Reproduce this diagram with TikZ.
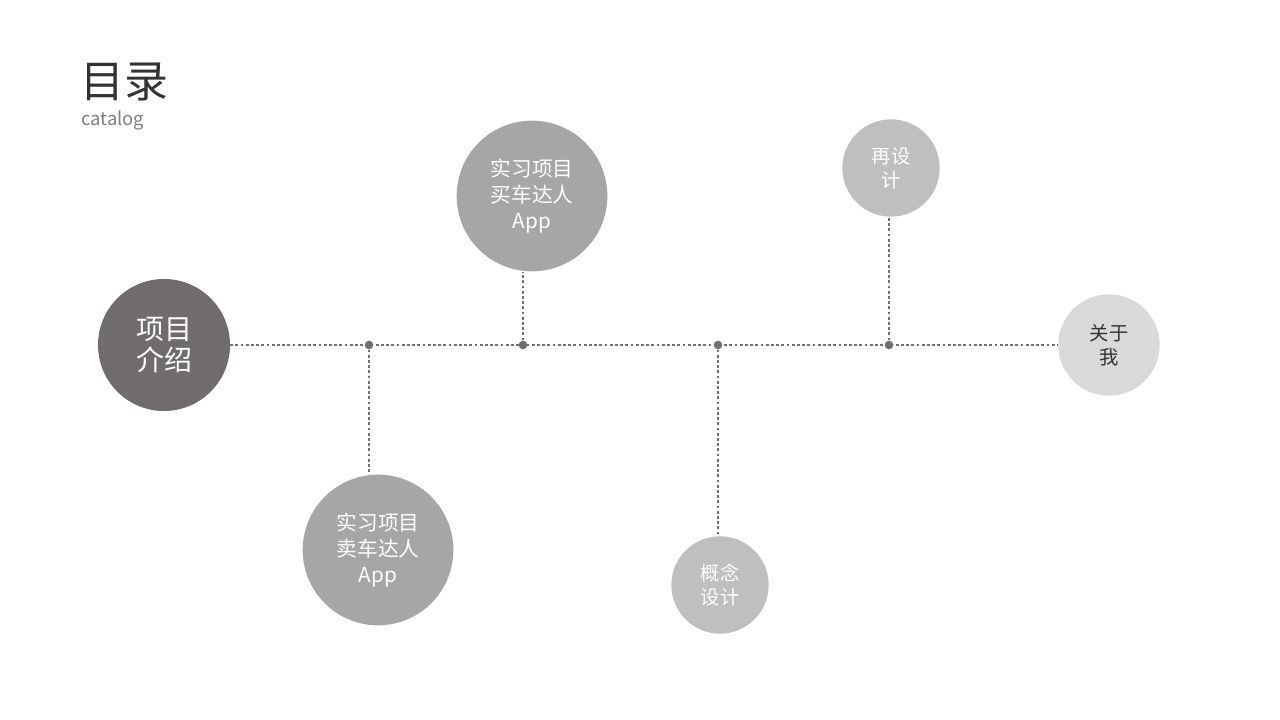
\documentclass[tikz,border=0pt]{standalone}
\usepackage{fontspec}
\setmainfont{Noto Sans CJK SC}
\usetikzlibrary{positioning}
\definecolor{darkdisc}{HTML}{706C6C}
\definecolor{middisc}{HTML}{A6A6A6}
\definecolor{lightdisc}{HTML}{BFBFBF}
\definecolor{paledisc}{HTML}{D9D9D9}
\definecolor{linegray}{HTML}{707070}
\definecolor{titlegray}{HTML}{333333}
\begin{document}
\begin{tikzpicture}[x=0.75pt, y=-0.75pt,
      every node/.style={inner sep=0pt, align=center},
      topic/.style={circle, text=white},
      big topic/.style={topic, fill=darkdisc, minimum size=99pt, font=\fontsize{21}{23}\selectfont},
      app topic/.style={topic, fill=middisc, minimum size=113pt, font=\fontsize{15.5}{19.5}\selectfont},
      small topic/.style={topic, fill=lightdisc, minimum size=73pt, font=\fontsize{14.5}{18}\selectfont},
      joint/.style={circle, fill=linegray, minimum size=6.5pt},
      link/.style={draw=linegray, line width=2.2pt, dash pattern=on 2.1pt off 1.8pt}]

   \useasboundingbox[fill=white] (0,0) rectangle (1280,720);

   \node[anchor=west, text=titlegray, font=\fontsize{33}{33}\selectfont] (title) at (80,82) {目录};
   \node[anchor=west, text=gray, font=\fontsize{13.8}{15}\selectfont] (catalog) at (81,120) {catalog};

   \node[big topic] (intro) at (164,345) {项目\\介绍};
   \node[app topic] (buy) at (532,196) {实习项目\\买车达人\\App};
   \node[app topic] (sell) at (378,550) {实习项目\\卖车达人\\App};
   \node[small topic] (concept) at (720,585) {概念\\设计};
   \node[small topic] (redesign) at (891,168) {再设\\计};
   \node[small topic, fill=paledisc, minimum size=76pt, text=titlegray] (about) at (1109,345) {关于\\我};

   \draw[link] (intro.east) -- (about.west);

   \node[joint] (j1) at (369,345) {};
   \node[joint] (j2) at (523,345) {};
   \node[joint] (j3) at (718,345) {};
   \node[joint] (j4) at (889,345) {};

   \draw[link] (j1) -- (j1 |- sell.north);
   \draw[link] (j2) -- (j2 |- buy.south);
   \draw[link] (j3) -- (j3 |- concept.north);
   \draw[link] (j4) -- (j4 |- redesign.south);
\end{tikzpicture}
\end{document}
